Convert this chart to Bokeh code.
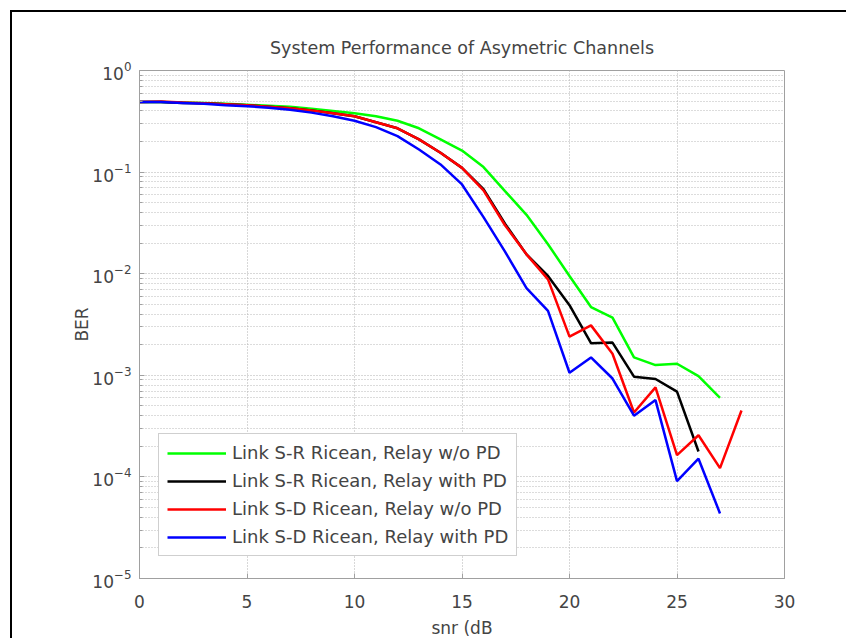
from bokeh.plotting import figure
from bokeh.models import Legend, LegendItem, FixedTicker, Range1d
from bokeh.embed import file_html
from bokeh.resources import INLINE

snr_green = list(range(0, 28))
ber_green = [0.49, 0.49, 0.485, 0.48, 0.47, 0.46, 0.45, 0.44, 0.42, 0.40, 0.38,
             0.355, 0.32, 0.27, 0.21, 0.163, 0.112, 0.065, 0.038, 0.0195, 0.0095,
             0.0047, 0.0037, 0.0015, 0.00126, 0.0013, 0.00098, 0.0006]

snr_black = list(range(0, 27))
ber_black = [0.49, 0.49, 0.48, 0.475, 0.465, 0.455, 0.44, 0.425, 0.405, 0.38, 0.355,
             0.31, 0.27, 0.21, 0.155, 0.11, 0.068, 0.031, 0.0155, 0.0095, 0.0049,
             0.00207, 0.0021, 0.00097, 0.00092, 0.00069, 0.000178]

snr_red = list(range(0, 29))
ber_red = [0.49, 0.495, 0.485, 0.475, 0.465, 0.455, 0.44, 0.425, 0.405, 0.38, 0.355,
           0.31, 0.27, 0.21, 0.155, 0.11, 0.066, 0.03, 0.0155, 0.0088, 0.0024,
           0.0031, 0.00163, 0.00043, 0.00076, 0.000164, 0.000257, 0.000122, 0.00045]

snr_blue = list(range(0, 28))
ber_blue = [0.49, 0.49, 0.48, 0.47, 0.455, 0.445, 0.43, 0.41, 0.385, 0.355, 0.32,
            0.277, 0.226, 0.167, 0.119, 0.0756, 0.036, 0.0165, 0.0072, 0.0043, 0.00106,
            0.0015, 0.00093, 0.0004, 0.00057, 0.000091, 0.000151, 0.0000437]

labels = ["Link S-R Ricean, Relay w/o PD", "Link S-R Ricean, Relay with PD",
          "Link S-D Ricean, Relay w/o PD", "Link S-D Ricean, Relay with PD"]
colors = ["#00ff00", "#000000", "#ff0000", "#0000ff"]

x_ticks = [0, 5, 10, 15, 20, 25, 30]
y_ticks = [1e-5, 1e-4, 1e-3, 1e-2, 1e-1, 1e0]
y_minor = [m * 10.0 ** d for d in range(-5, 0) for m in range(2, 10)]

FONT = "DejaVu Sans"

p = figure(width=836, height=628, y_axis_type="log",
           x_range=Range1d(0, 30), y_range=Range1d(1e-5, 1),
           output_backend="svg", toolbar_location=None,
           title="System Performance of Asymetric Channels",
           min_border_left=127, min_border_right=64, min_border_top=58, min_border_bottom=54)
p.styles = {"border-left": "2px solid black", "border-top": "2px solid black",
            "border-right": "none", "border-bottom": "none",
            "margin-left": "10px", "margin-top": "10px", "margin-bottom": "-40px",
            "margin-right": "-40px"}

p.title.align = "center"
p.title.text_font = FONT
p.title.text_font_size = "17.5px"
p.title.text_font_style = "normal"
p.title.standoff = 26

p.xaxis.ticker = FixedTicker(ticks=x_ticks)
p.yaxis.ticker = FixedTicker(ticks=y_ticks, minor_ticks=y_minor)
p.xaxis.axis_label = "snr (dB"
p.yaxis.axis_label = "BER"
for ax in (p.xaxis, p.yaxis):
    ax.axis_label_text_font = FONT
    ax.axis_label_text_font_size = "17px"
    ax.axis_label_text_font_style = "normal"
    ax.major_label_text_font = FONT
    ax.major_label_text_font_size = "17px"
    ax.axis_line_color = "#a0a0a0"
    ax.major_tick_line_color = "#a0a0a0"
    ax.minor_tick_line_color = "#a0a0a0"
    ax.major_tick_in = 5
    ax.major_tick_out = 0
    ax.minor_tick_in = 3
    ax.minor_tick_out = 0
p.xaxis.minor_tick_line_color = None
p.xaxis.major_label_standoff = 16
p.xaxis.axis_label_standoff = 7
p.yaxis.major_label_standoff = 8
p.yaxis.axis_label_standoff = -3

p.outline_line_color = "#a0a0a0"
p.xgrid.grid_line_color = "#b0b0b0"
p.xgrid.grid_line_dash = "1 2"
p.ygrid.grid_line_color = "#b0b0b0"
p.ygrid.grid_line_dash = "1 2"
p.ygrid.minor_grid_line_color = "#b8b8b8"
p.ygrid.minor_grid_line_dash = "1 2"

series = [(snr_green, ber_green), (snr_black, ber_black), (snr_red, ber_red), (snr_blue, ber_blue)]
items = []
for (xs, ys), c, lab in zip(series, colors, labels):
    r = p.line(xs, ys, line_color=c, line_width=2.5)
    items.append(LegendItem(label=lab, renderers=[r]))

legend = Legend(items=items, location=(19, 22), glyph_width=59, glyph_height=20,
                label_text_font=FONT, label_text_font_size="18px", label_standoff=6,
                spacing=7, padding=8, border_line_color="#a0a0a0", border_line_width=1,
                margin=0, background_fill_alpha=1)
p.add_layout(legend, "center")

open("out.html", "w").write(file_html(p, INLINE))
